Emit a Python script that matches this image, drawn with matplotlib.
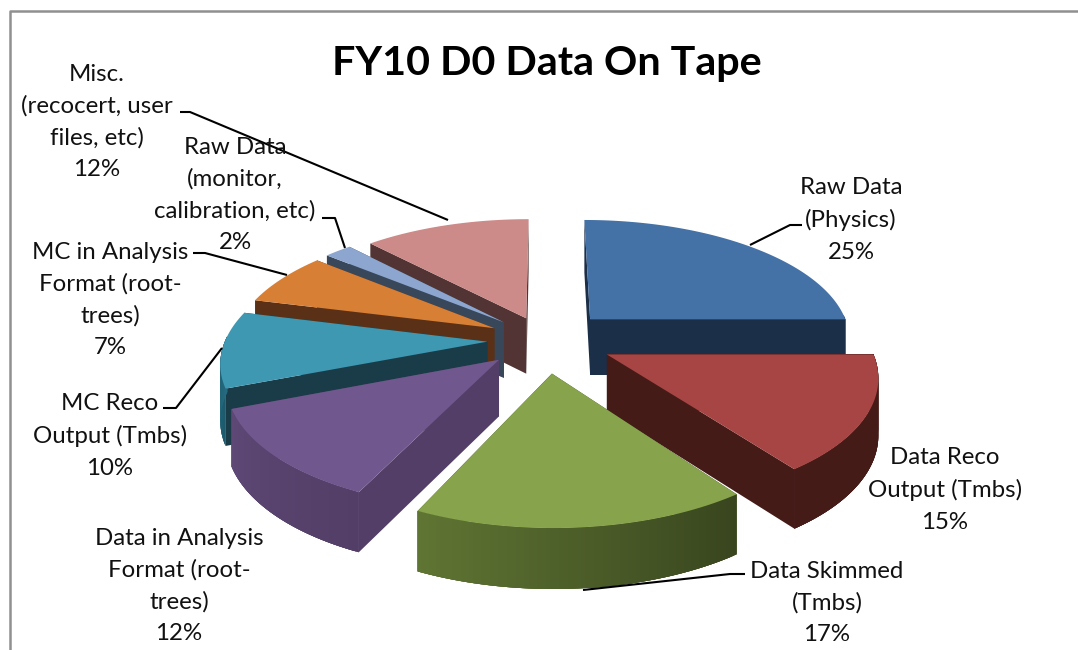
import numpy as np
import matplotlib
matplotlib.use("Agg")
import matplotlib.pyplot as plt
from matplotlib.colors import to_rgb

# --- data ---
categories = ["Raw Data\n(Physics)", "Data Reco\nOutput (Tmbs)", "Data Skimmed\n(Tmbs)",
              "Data in Analysis\nFormat (root-\ntrees)", "MC Reco\nOutput (Tmbs)",
              "MC in Analysis\nFormat (root-\ntrees)", "Raw Data\n(monitor,\ncalibration, etc)",
              "Misc.\n(recocert, user\nfiles, etc)"]
values = [25, 15, 17, 12, 10, 7, 2, 12]
title = "FY10 D0 Data On Tape"

# --- style / layout ---
top_colors = ["#4471A6", "#A64543", "#87A44D", "#70578D", "#3E98B2", "#D87F36", "#8CA6CF", "#CC8A88"]
face_colors = ["#1C2F48", "#451B18", "#38451E", "#523E66", "#1A3C48", "#5A3116", "#384759", "#513433"]
wall_end = ["#1C2F48", "#451B18", "#38451E", "#523E66", "#1D5A6E", "#5A3116", "#384759", "#513433"]
wall_start = ["#1C2F48", "#451B18", "#5F7533", "#5E4876", "#2A7388", "#5A3116", "#384759", "#513433"]
explode = [0.25, 0.26, 0.27, 0.235, 0.22, 0.22, 0.22, 0.20]
draw_order = [7, 6, 5, 4, 0, 3, 1, 2]
CX, CY, RX, RY, K, DEPTH = 545.0, 340.0, 262.0, 120.0, 0.15, 56.0
label_pos = [(851, 220), (945, 490), (827, 603), (179, 586), (110, 436), (110, 300), (235, 195), (97, 122)]
leaders = [[(802, 225), (790, 225), (750, 245)],
           [],
           [(745, 574), (730, 574), (583, 590)],
           [],
           [(163, 408), (176, 408), (222, 348)],
           [(193, 253), (205, 253), (287, 275)],
           [(322, 218), (335, 218), (345, 248)],
           [(180, 112), (190, 112), (448, 220)]]

plt.rcParams["font.family"] = ["Lato", "DejaVu Sans"]
fig = plt.figure(figsize=(10.78, 6.5), dpi=100, facecolor="white")
ax = fig.add_axes([0, 0, 1, 1])
ax.set_xlim(0, 1078)
ax.set_ylim(650, 0)
ax.axis("off")


def project(X, Y, z=0.0):
    s = 1.0 / (1.0 + K * np.asarray(Y))
    return CX + RX * np.asarray(X) * s, CY - RY * np.asarray(Y) * s + z * DEPTH * s ** 0.4


def mix(a, b, t):
    a, b = np.array(to_rgb(a)), np.array(to_rgb(b))
    return tuple(a + (b - a) * t)


fractions = np.array(values, float) / sum(values)
edges = np.concatenate([[0], np.cumsum(fractions)]) * 2 * np.pi

for i in draw_order:
    a0, a1 = edges[i], edges[i + 1]
    m = (a0 + a1) / 2
    ox, oy = explode[i] * np.sin(m), explode[i] * np.cos(m)
    th = np.linspace(a0, a1, 80)
    X, Y = ox + np.sin(th), oy + np.cos(th)
    ax_, ay_ = project(ox, oy)
    bx_, by_ = project(ox, oy, 1)
    px, py = project(X, Y)
    qx, qy = project(X, Y, 1)
    # radial faces
    for j in (0, -1):
        ax.fill([ax_, px[j], qx[j], bx_], [ay_, py[j], qy[j], by_],
                color=face_colors[i], lw=0, zorder=1)
    # outer wall: one base polygon, then overlapping quads that carry the shading
    vis = np.where(np.cos(th) < 0.05)[0]
    if len(vis) > 1:
        ax.fill(np.r_[px[vis], qx[vis][::-1]], np.r_[py[vis], qy[vis][::-1]],
                color=mix(wall_end[i], wall_start[i], 0.5), lw=0, zorder=1)
        for j in vis[:-1]:
            k = min(j + 3, vis[-1])
            c = mix(wall_end[i], wall_start[i], j / (len(th) - 2))
            ax.fill([px[j], *px[j + 1:k + 1], *qx[j + 1:k + 1][::-1], qx[j]],
                    [py[j], *py[j + 1:k + 1], *qy[j + 1:k + 1][::-1], qy[j]],
                    color=c, lw=0, zorder=1)
    # top surface
    ax.fill(np.r_[ax_, px], np.r_[ay_, py], color=top_colors[i], lw=0, zorder=1)

# percent labels and leaders
for cat, v, (x, y), pts in zip(categories, values, label_pos, leaders):
    ax.text(x, y, f"{cat}\n{v}%", ha="center", va="center", fontsize=17.3,
            color="#111111", linespacing=1.6, zorder=3)
    if pts:
        ax.plot(*zip(*pts), color="black", lw=1.5, zorder=2, solid_capstyle="butt")

ax.text(547, 64, title, ha="center", va="center", fontsize=29.7, fontweight="bold", color="black", zorder=3)

# chart frame
ax.plot([9.5, 9.5, 1078], [650, 10.5, 10.5], color="#909090", lw=1.8, zorder=4)

fig.savefig("out.png", dpi=100, facecolor="white")
